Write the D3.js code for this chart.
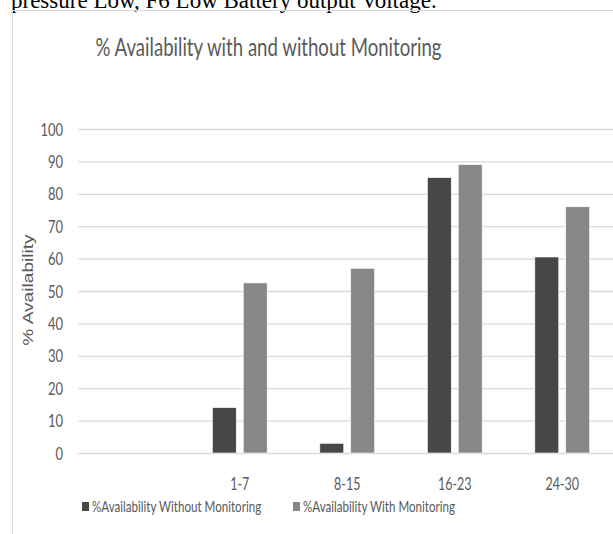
<!DOCTYPE html>
<html>
<head>
<meta charset="utf-8">
<script src="https://cdn.jsdelivr.net/npm/d3@7"></script>
<style>
  body { margin: 0; background: #fff; }
  svg { display: block; }
</style>
</head>
<body>
<div class="chart"></div>
<script>
// data
const categories = ["", "1-7", "8-15", "16-23", "24-30"];
const seriesNames = ["%Availability Without Monitoring", "%Availability With Monitoring"];
const withoutMonitoring = [null, 14, 3, 85, 60.5];
const withMonitoring = [null, 52.5, 57, 89, 76];
const yTicks = [0, 10, 20, 30, 40, 50, 60, 70, 80, 90, 100];

const colors = ["#474747", "#878787"];
const textColor = "#595959";
const stretch = 1.32;   // the picture is stretched vertically

const svg_width = 613;
const svg_height = 534;
const plot = { left: 78.5, right: 616, top: 129, bottom: 453 };

const svg = d3.select(".chart").append("svg")
    .attr("width", svg_width)
    .attr("height", svg_height);

// caption line of the page above the chart
svg.append("text")
    .attr("x", 11).attr("y", 8)
    .style("font-family", "Liberation Serif")
    .style("font-size", "23px")
    .style("fill", "#000")
    .text("pressure Low, F6 Low Battery output Voltage.");

// chart frame
svg.append("path")
    .attr("d", "M12.5,534V10.5H613")
    .attr("fill", "none")
    .attr("stroke", "#d9d9d9")
    .attr("stroke-width", 1);

// scales
const xScale = d3.scaleBand()
    .domain(categories)
    .range([plot.left, plot.right])
    .padding(0);

const xInner = d3.scaleBand()
    .domain(seriesNames)
    .range([xScale.bandwidth() * 0.245, xScale.bandwidth() * 0.755])
    .paddingInner(0.226);

const yScale = d3.scaleLinear([0, 100], [plot.bottom, plot.top]);

// y axis + gridlines
const yAxis = d3.axisLeft(yScale)
    .tickValues(yTicks)
    .tickSize(-(plot.right - plot.left))
    .tickPadding(15.5);

const yAxisDraw = svg.append("g")
    .attr("transform", `translate(${plot.left},0)`)
    .call(yAxis);
yAxisDraw.select(".domain").remove();
yAxisDraw.selectAll("line").attr("stroke", "#d9d9d9").attr("stroke-width", 1.3);
yAxisDraw.selectAll("text")
    .attr("dy", "0.36em")
    .attr("transform", `scale(1,${stretch})`)
    .style("font-family", "Lato")
    .style("font-size", "13px")
    .style("fill", textColor);

// bars
const barData = [];
categories.forEach((c, i) => {
    [withoutMonitoring, withMonitoring].forEach((s, j) => {
        if (s[i] != null) barData.push({ cat: c, series: seriesNames[j], value: s[i], k: j });
    });
});

svg.append("g").attr("class", "bars")
    .selectAll("rect").data(barData).join("rect")
    .attr("x", d => xScale(d.cat) + xInner(d.series))
    .attr("y", d => yScale(d.value))
    .attr("width", xInner.bandwidth())
    .attr("height", d => yScale(0) - yScale(d.value))
    .attr("fill", d => colors[d.k])
    .attr("stroke", "#fff")
    .attr("stroke-width", 0.6);

// x axis labels
const xAxis = d3.axisBottom(xScale).tickSize(0);
const xAxisDraw = svg.append("g")
    .attr("transform", `translate(0,${plot.bottom})`)
    .call(xAxis);
xAxisDraw.select(".domain").remove();
xAxisDraw.selectAll("text")
    .attr("y", 0).attr("dy", 0)
    .attr("transform", `translate(0,37) scale(1,${stretch})`)
    .style("font-family", "Lato")
    .style("font-size", "12.5px")
    .style("fill", textColor);

// y axis title
svg.append("text")
    .attr("transform", `translate(33,290) scale(1,${stretch}) rotate(-90)`)
    .attr("text-anchor", "middle")
    .style("font-family", "Liberation Sans")
    .style("font-size", "14.5px")
    .style("fill", textColor)
    .text("% Availability");

// chart title
svg.append("text")
    .attr("transform", `translate(268.5,56) scale(1,${stretch})`)
    .attr("text-anchor", "middle")
    .style("font-family", "Lato")
    .style("font-size", "18.6px")
    .style("fill", textColor)
    .text("% Availability with and without Monitoring");

// legend
const legendX = [82, 293];
const legend = svg.append("g").selectAll("g").data(seriesNames).join("g")
    .attr("transform", (d, i) => `translate(${legendX[i]},511.5)`);
legend.append("rect")
    .attr("x", 0).attr("y", -9.5)
    .attr("width", 7).attr("height", 9)
    .attr("fill", (d, i) => colors[i]);
legend.append("text")
    .attr("x", 10)
    .attr("transform", `scale(1,${stretch})`)
    .style("font-family", "Lato")
    .style("font-size", "11.6px")
    .style("fill", textColor)
    .text(d => d);
</script>
</body>
</html>
